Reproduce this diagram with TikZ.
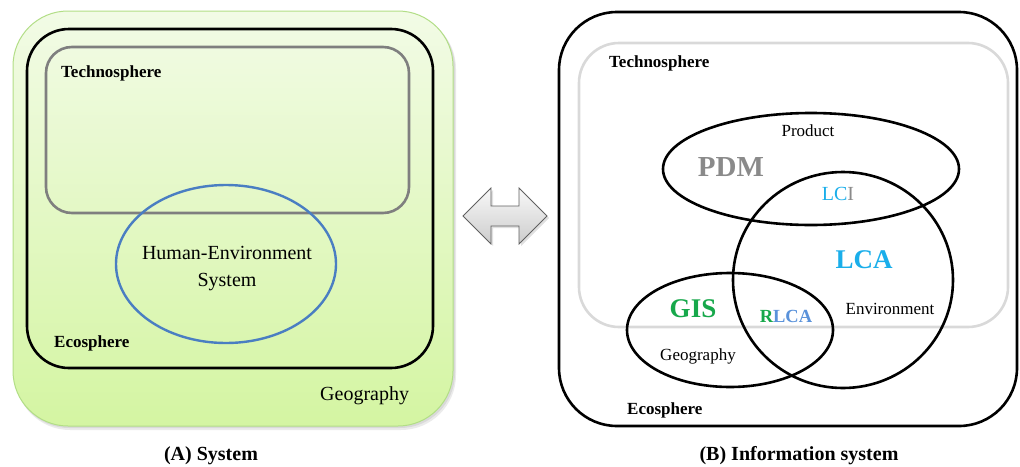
\documentclass[tikz,border=0pt]{standalone}
\usepackage{fontspec}
\setmainfont{Liberation Serif}
\definecolor{geofill}{HTML}{D4F5A2}
\definecolor{geotop}{HTML}{F2FBE6}
\definecolor{geoline}{HTML}{B2DE86}
\definecolor{hesblue}{HTML}{4A7EC2}
\definecolor{lcablue}{HTML}{1AAEEA}
\definecolor{rlcablue}{HTML}{5A92DA}
\definecolor{gisgreen}{HTML}{17A84B}
\definecolor{pdmgray}{HTML}{8A8A8A}
\definecolor{techgray}{HTML}{7F7F7F}
\definecolor{techlight}{HTML}{D9D9D9}
\tikzset{
  blackline/.style={draw=black, line width=2.6pt},
  lbl/.style={inner sep=0pt, font=\fontsize{17}{20}\selectfont},
  blbl/.style={inner sep=0pt, font=\bfseries\fontsize{17}{20}\selectfont},
  caption/.style={inner sep=0pt, font=\bfseries\fontsize{20}{24}\selectfont},
}
\begin{document}
\begin{tikzpicture}[x=1pt,y=-1pt]
\useasboundingbox (0,0) rectangle (1020,466);
% ---------- (A) ----------
% shadow
\fill[black, opacity=0.08, rounded corners=55pt] (15,14) rectangle (456,430);
\fill[black, opacity=0.08, rounded corners=55pt] (14,13) rectangle (455,428);
\shade[top color=geotop, bottom color=geofill, draw=geoline, line width=1pt, rounded corners=55pt]
  (13,11) rectangle (453,426);
\draw[blackline, rounded corners=42pt] (27,29) rectangle (433,368);
\draw[draw=techgray, line width=2.6pt, rounded corners=26pt] (46,47) rectangle (409,213);
\draw[draw=hesblue, line width=2.4pt] (226,264) ellipse [x radius=110, y radius=79];
\node[blbl, anchor=west] (techA) at (61,73) {Technosphere};
\node[lbl, align=center, font=\fontsize{20}{27}\selectfont] (hes) at (227,269) {Human-Environment\\System};
\node[blbl, anchor=west] (ecoA) at (54,343) {Ecosphere};
\node[lbl, anchor=west, font=\fontsize{20}{24}\selectfont] (geoA) at (320,396) {Geography};
\node[caption] (capA) at (211,456) {(A) System};
% ---------- arrow ----------
\fill[black, opacity=0.12] (465,218) -- (493,190) -- (493,208) -- (521,208) -- (521,190) -- (549,218)
  -- (521,246) -- (521,228) -- (493,228) -- (493,246) -- cycle;
\shade[top color=gray!5, bottom color=gray!40, draw=gray!75!black, line width=0.8pt]
  (463,216) -- (491,188) -- (491,206) -- (519,206) -- (519,188) -- (547,216)
  -- (519,244) -- (519,226) -- (491,226) -- (491,244) -- cycle;
% ---------- (B) ----------
\draw[blackline, rounded corners=58pt] (559,12) rectangle (1017,426);
\draw[draw=techlight, line width=2.6pt, rounded corners=40pt] (579,43) rectangle (1008,327);
\draw[blackline] (811,169) ellipse [x radius=148, y radius=56];
\draw[blackline] (843,280) ellipse [x radius=110, y radius=108];
\draw[blackline] (730,330) ellipse [x radius=103, y radius=57];
\node[blbl, anchor=west] (techB) at (609,63) {Technosphere};
\node[lbl] (product) at (808,131) {Product};
\node[inner sep=0pt, font=\bfseries\fontsize{29}{32}\selectfont, text=pdmgray] (pdm) at (731,167) {PDM};
\node[inner sep=0pt, font=\fontsize{20}{24}\selectfont] (lci) at (838,194) {\textcolor{lcablue}{LC}\textcolor{pdmgray}{I}};
\node[inner sep=0pt, font=\bfseries\fontsize{27}{30}\selectfont, text=lcablue] (lca) at (864,260) {LCA};
\node[inner sep=0pt, font=\bfseries\fontsize{27}{30}\selectfont, text=gisgreen] (gis) at (693,309) {GIS};
\node[inner sep=0pt, font=\bfseries\fontsize{18.5}{22}\selectfont] (rlca) at (786,316) {\textcolor{gisgreen}{R}\textcolor{rlcablue}{LCA}};
\node[lbl] (env) at (890,309) {Environment};
\node[lbl] (geoB) at (698,356) {Geography};
\node[blbl, anchor=west] (ecoB) at (627,410) {Ecosphere};
\node[caption] (capB) at (799,456) {(B) Information system};
\end{tikzpicture}
\end{document}
